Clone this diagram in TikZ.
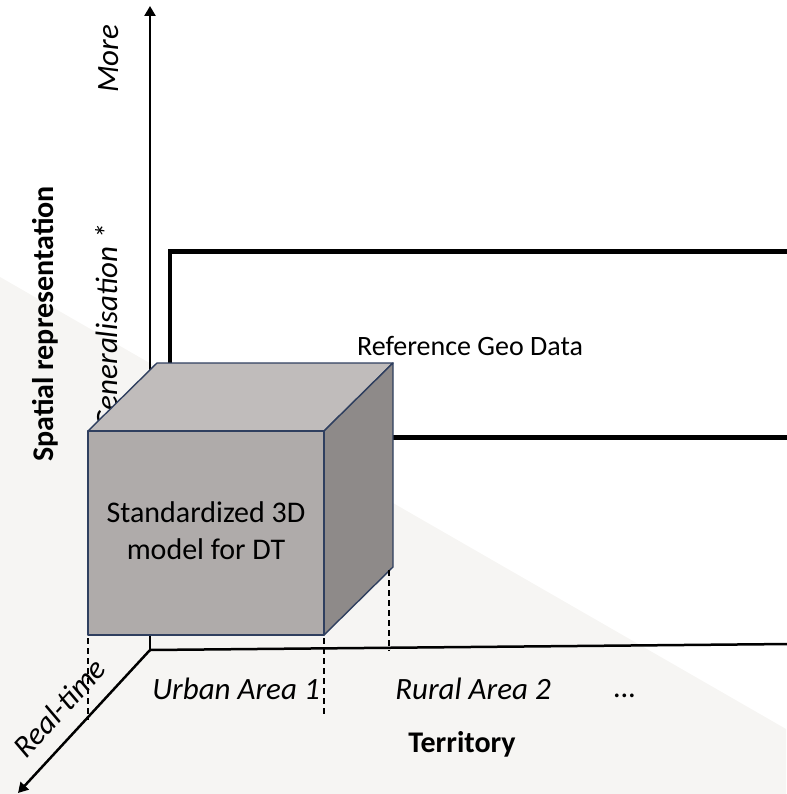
\documentclass[tikz,border=0pt]{standalone}
\usepackage{fontspec}
\setmainfont{Carlito}
\usetikzlibrary{arrows.meta}
\definecolor{bgpale}{HTML}{F6F5F3}
\definecolor{cubetop}{HTML}{C0BCBB}
\definecolor{cubefront}{HTML}{AFABAA}
\definecolor{cubeside}{HTML}{8E8A89}
\definecolor{cubeedge}{HTML}{2F3F5F}
\begin{document}
\begin{tikzpicture}[x=1pt,y=-1pt,
  axisline/.style={line width=2.5pt, black},
  axisarrow/.style={axisline, -{Triangle[width=11pt,length=10pt]}},
  guide/.style={line width=2.6pt, black, dash pattern=on 6pt off 4pt},
  face/.style={draw=cubeedge, line width=1.4pt, line join=round},
  lbl/.style={inner sep=0pt, anchor=base, font=\fontsize{30}{36}\selectfont},
  ilbl/.style={lbl, font=\fontsize{31}{36}\selectfont\itshape},
  blbl/.style={lbl, font=\fontsize{30}{36}\selectfont\bfseries}]
\useasboundingbox (0,0) rectangle (786,794);

% pale backdrop in the lower left
\fill[bgpale] (0,277) -- (786,729) -- (786,794) -- (0,794) -- cycle;

% axes
\coordinate (O) at (150,650);
\coordinate (ytip) at (150,6);
\coordinate (xend) at (790,644);
\coordinate (ztip) at (18,793);
\draw[axisarrow] (O) -- (ytip);
\draw[axisline] (O) -- (xend);
\draw[axisarrow] (O) -- (ztip);

% reference data band
\coordinate (rtr) at (800,251.5);
\coordinate (rtl) at (170,251.5);
\coordinate (rbl) at (170,437.5);
\coordinate (rbr) at (800,437.5);
\draw[line width=4.6pt, line join=miter] (rtr) -- (rtl) -- (rbl) -- (rbr);
\node[lbl, font=\fontsize{28}{34}\selectfont] (refgeo) at (470,355) {Reference Geo Data};

% vertical axis labels
\node[ilbl, rotate=90] (more) at (118,59) {More};
\node[ilbl, rotate=90] (gen) at (117,327) {Generalisation *};
\node[blbl, rotate=90] (spatial) at (53,324) {Spatial representation};

% cube
\coordinate (fbl) at (88,635);
\coordinate (fbr) at (324,635);
\coordinate (ftr) at (324,431);
\coordinate (ftl) at (88,431);
\coordinate (btl) at (157,363);
\coordinate (btr) at (393,363);
\coordinate (bbr) at (393,567);
\fill[cubefront] (fbl) -- (fbr) -- (ftr) -- (ftl) -- cycle;
\draw[face, fill=cubetop] (ftl) -- (btl) -- (btr) -- (ftr) -- cycle;
\draw[face, fill=cubeside] (ftr) -- (btr) -- (bbr) -- (fbr) -- cycle;
\draw[face] (fbl) -- (fbr) -- (ftr) -- (ftl) -- cycle;
\node[inner sep=0pt, align=center, font=\fontsize{30}{37}\selectfont] (cubetxt) at (206,531)
  {Standardized 3D\\model for DT};

% projection guides
\coordinate (g1a) at (88,638);
\coordinate (g1b) at (88,720);
\coordinate (g2a) at (324,638);
\coordinate (g2b) at (324,717);
\coordinate (g3a) at (389,570);
\coordinate (g3b) at (389,651);
\draw[guide] (g1a) -- (g1b);
\draw[guide] (g2a) -- (g2b);
\draw[guide] (g3a) -- (g3b);

% horizontal and depth labels
\node[ilbl] (urban) at (236,699) {Urban Area 1};
\node[ilbl] (rural) at (473,699) {Rural Area 2};
\node[ilbl] (dots) at (625,697) {…};
\node[blbl] (territory) at (462,752) {Territory};
\node[ilbl, rotate=47.3] (realtime) at (67,715) {Real-time};
\end{tikzpicture}
\end{document}
